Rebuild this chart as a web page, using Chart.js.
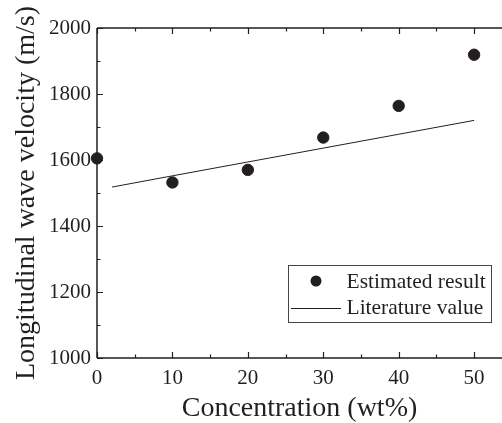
<!DOCTYPE html>
<html><head><meta charset="utf-8">
<script src="https://cdn.jsdelivr.net/npm/chart.js@4/dist/chart.umd.min.js"></script>
<style>html,body{margin:0;padding:0;background:#fff}#wrap{width:502px;height:423px}</style>
</head><body><div id="wrap"><canvas id="c" width="502" height="423"></canvas></div>
<script>
const concentration = [0, 10, 20, 30, 40, 50];
const estimated = [1605, 1532, 1570, 1668, 1764, 1919];
const litConc = [2, 10, 20, 30, 40, 50];
const literature = [1518, 1552, 1594, 1636, 1678, 1720];
const xTicks = [0, 10, 20, 30, 40, 50];
const yTicks = [1000, 1200, 1400, 1600, 1800, 2000];
const ink = '#231f20';
const FONT = '"Liberation Serif", "Times New Roman", serif';

const axisPlugin = {
  id: 'axes',
  afterDraw(chart) {
    const ctx = chart.ctx, a = chart.chartArea;
    const xs = chart.scales.x, ys = chart.scales.y;
    ctx.save();
    ctx.strokeStyle = ink; ctx.lineWidth = 1.5;
    ctx.beginPath();
    ctx.moveTo(a.left, a.top); ctx.lineTo(a.right, a.top);
    ctx.moveTo(a.left, a.top); ctx.lineTo(a.left, a.bottom);
    ctx.moveTo(a.left, a.bottom); ctx.lineTo(a.right, a.bottom);
    ctx.stroke();
    ctx.lineWidth = 1.2;
    ctx.beginPath();
    for (let v = 0; v <= xs.max; v += 5) {
      const px = Math.round(xs.getPixelForValue(v)) + 0.5;
      const len = v % 10 === 0 ? 6 : 3.5;
      ctx.moveTo(px, a.bottom); ctx.lineTo(px, a.bottom - len);
      ctx.moveTo(px, a.top); ctx.lineTo(px, a.top + len);
    }
    for (let v = 1000; v <= 2000; v += 100) {
      const py = Math.round(ys.getPixelForValue(v)) + 0.5;
      const len = v % 200 === 0 ? 6 : 3.5;
      ctx.moveTo(a.left, py); ctx.lineTo(a.left + len, py);
    }
    ctx.stroke();
    // legend
    const lx = 288, ly = 265, lw = 203, lh = 57;
    ctx.lineWidth = 1; ctx.strokeStyle = '#444';
    ctx.strokeRect(lx + 0.5, ly + 0.5, lw, lh);
    ctx.fillStyle = ink;
    ctx.beginPath(); ctx.arc(316, 281, 5.5, 0, Math.PI * 2); ctx.fill();
    ctx.strokeStyle = ink; ctx.lineWidth = 1;
    ctx.beginPath(); ctx.moveTo(291, 308.5); ctx.lineTo(341, 308.5); ctx.stroke();
    ctx.font = '21.5px ' + FONT; ctx.textBaseline = 'middle'; ctx.textAlign = 'left';
    ctx.fillText(chart.data.datasets[0].label, 346.5, 282);
    ctx.fillText(chart.data.datasets[1].label, 346.5, 308);
    ctx.restore();
  }
};

new Chart(document.getElementById('c'), {
  type: 'scatter',
  data: {
    datasets: [
      { label: 'Estimated result', data: concentration.map((x, i) => ({x, y: estimated[i]})),
        pointRadius: 5.7, pointBackgroundColor: ink, pointBorderColor: ink, showLine: false, clip: false },
      { label: 'Literature value', data: litConc.map((x, i) => ({x, y: literature[i]})),
        pointRadius: 0, borderColor: ink, borderWidth: 1, showLine: true, tension: 0 }
    ]
  },
  options: {
    responsive: false, animation: false, devicePixelRatio: 1,
    layout: { autoPadding: false, padding: { top: 28, right: 0, left: 0, bottom: 0 } },
    plugins: { legend: { display: false }, tooltip: { enabled: false } },
    scales: {
      x: {
        type: 'linear', min: 0, max: 53.7,
        afterBuildTicks(s) { s.ticks = xTicks.map(v => ({value: v})); },
        afterFit(s) { s.height = 65; s.paddingLeft = 0; s.paddingRight = 0; },
        grid: { display: false, drawTicks: false }, border: { display: false },
        ticks: { color: ink, font: { family: FONT, size: 21 }, padding: 8, maxRotation: 0, callback: v => String(v) },
        title: { display: true, text: 'Concentration (wt%)', color: ink, font: { family: FONT, size: 28 }, padding: { top: 3, bottom: -2 } }
      },
      y: {
        type: 'linear', min: 1000, max: 2000,
        afterBuildTicks(s) { s.ticks = yTicks.map(v => ({value: v})); },
        afterFit(s) { s.width = 97; s.paddingTop = 0; s.paddingBottom = 0; },
        grid: { display: false, drawTicks: false }, border: { display: false },
        ticks: { color: ink, font: { family: FONT, size: 21 }, padding: 6, callback: v => String(v) },
        title: { display: true, text: 'Longitudinal wave velocity (m/s)', color: ink, font: { family: FONT, size: 28 }, padding: { top: 10, bottom: 2 } }
      }
    }
  },
  plugins: [axisPlugin]
});
</script></body></html>
